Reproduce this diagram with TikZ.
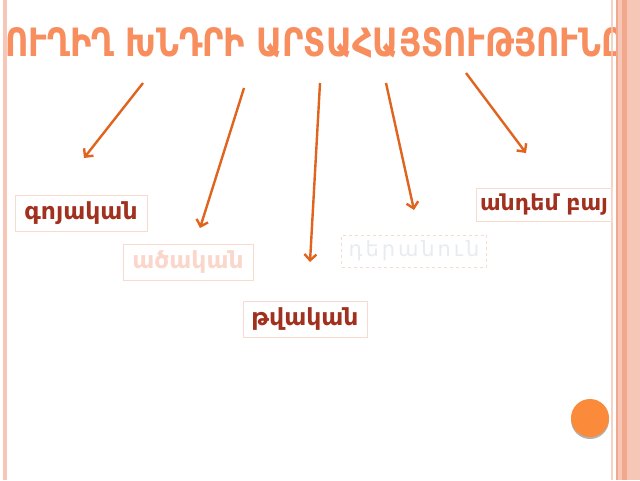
\documentclass[tikz,border=0pt]{standalone}
\usepackage{fontspec}
\newfontfamily\armfont{DejaVu Sans}
\usetikzlibrary{arrows.meta}

\definecolor{titleorange}{HTML}{F88D5E}
\definecolor{arrowline}{HTML}{E0631E}
\definecolor{wordred}{HTML}{A2301F}
\definecolor{boxline}{HTML}{F9DACE}
\definecolor{fadedpink}{HTML}{FAD6CB}
\definecolor{fadedgrey}{HTML}{E8ECEF}
\definecolor{dotorange}{HTML}{FB8A3A}
\definecolor{stripelight}{HTML}{F6C6B6}
\definecolor{stripedark}{HTML}{F2A88C}

\tikzset{%
        wordbox/.style={
                draw=boxline,
                line width=0.6pt,
                font=\armfont\bfseries\fontsize{23.5}{26}\selectfont,
                text=wordred,
                inner xsep=4pt,
                minimum height=36pt
            },
        pointer/.style={
                draw=arrowline,
                line width=2.4pt,
                -{Straight Barb[length=6pt,width=12pt]}
            }
    }

\begin{document}
\begin{tikzpicture}[x=1pt,y=-1pt]
    \useasboundingbox (0,0) rectangle (640,480);
    \fill[white] (0,0) rectangle (640,480);

    % title:
        \node [anchor=west, inner sep=0pt, text=titleorange,
               font=\armfont\bfseries\fontsize{36}{40}\selectfont] (title) at (5,43)
              {\resizebox{619pt}{29pt}{ՈՒՂԻՂ ԽՆԴՐԻ ԱՐՏԱՀԱՅՏՈՒԹՅՈՒՆԸ}};

    % frame:
        \fill[stripelight] (3,0) rectangle (7,480);
        \fill[stripelight, opacity=0.8] (611,0) rectangle (613,480);
        \fill[stripedark] (616,0) rectangle (618,480);
        \fill[stripelight] (618,0) rectangle (640,480);
        \fill[stripedark] (622,0) rectangle (627,480);

    % words:
        \node [wordbox, minimum width=132pt] (noun) at (81,213) {գոյական};
        \node [wordbox, minimum width=130pt, text=fadedpink] (adj) at (188,262) {ածական};
        \node [wordbox, minimum width=124pt] (num) at (305,319) {թվական};
        \node [wordbox, minimum width=145pt, minimum height=32pt, dashed, text=fadedgrey,
               font=\armfont\fontsize{21}{23}\selectfont\addfontfeature{LetterSpace=14}] (pron) at (414,251) {դերանուն};
        \node [wordbox, minimum width=135pt, minimum height=33pt,
               font=\armfont\bfseries\fontsize{22}{24}\selectfont] (verb) at (544,205) {անդեմ բայ};

    % arrows:
        \coordinate (s1) at (143,83);   \coordinate (e1) at (84,158);
        \coordinate (s2) at (244,88);   \coordinate (e2) at (200,228);
        \coordinate (s3) at (320,83);   \coordinate (e3) at (310,262);
        \coordinate (s4) at (386,83);   \coordinate (e4) at (414,210);
        \coordinate (s5) at (466,73);   \coordinate (e5) at (526,153);

        \draw[pointer] (s1) -- (e1);
        \draw[pointer] (s2) -- (e2);
        \draw[pointer] (s3) -- (e3);
        \draw[pointer] (s4) -- (e4);
        \draw[pointer] (s5) -- (e5);

    % button:
        \fill[black!30] (590,420) circle (19);
        \node [circle, fill=dotorange, minimum size=38pt, inner sep=0pt] (dot) at (590,418) {};
\end{tikzpicture}
\end{document}
